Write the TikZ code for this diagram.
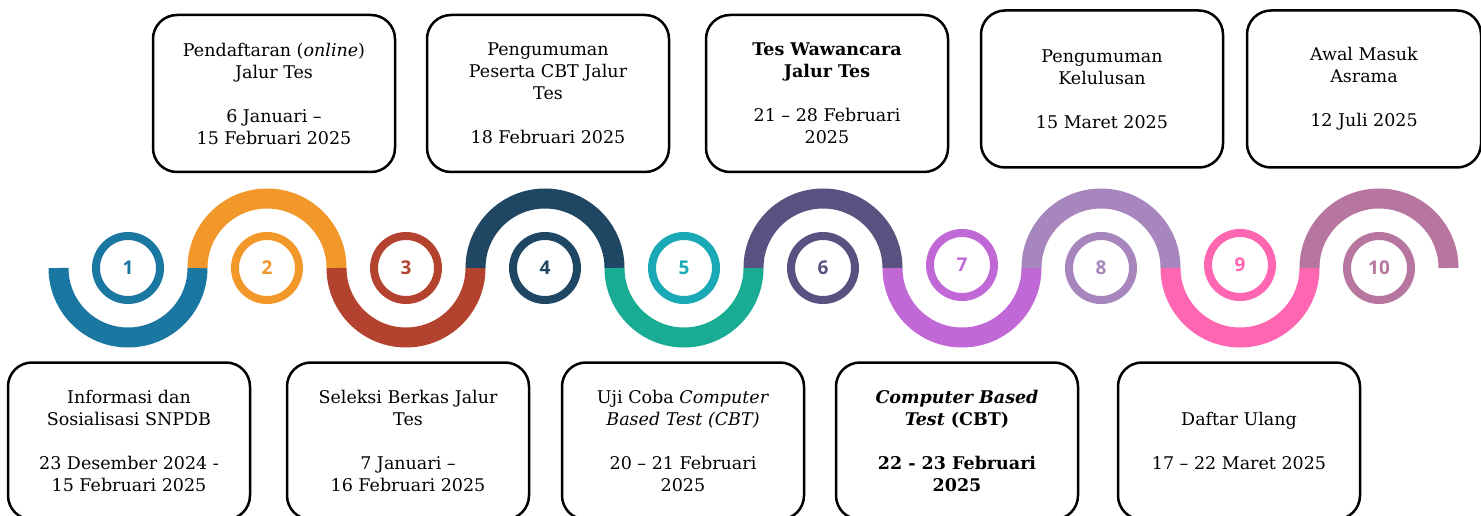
\documentclass[tikz,border=0pt]{standalone}
\usepackage{fontspec}
\setmainfont{DejaVu Serif}
\setsansfont{Open Sans}
\usetikzlibrary{positioning}
\definecolor{cOne}{HTML}{1A77A1}
\definecolor{cTwo}{HTML}{F2972A}
\definecolor{cThree}{HTML}{B3432F}
\definecolor{cFour}{HTML}{1F4662}
\definecolor{cFive}{HTML}{18AD92}
\definecolor{cFiveRing}{HTML}{19AAB6}
\definecolor{cSix}{HTML}{59517F}
\definecolor{cSeven}{HTML}{C068D6}
\definecolor{cEight}{HTML}{A786BD}
\definecolor{cNine}{HTML}{FF66B2}
\definecolor{cTen}{HTML}{B7769F}
\tikzset{
    block/.style={
           rectangle,
           rounded corners=24pt,
           draw=black, line width=2.5pt,
           minimum width=242pt,
           minimum height=157pt,
           inner sep=2pt,
           align=center,
           font=\fontsize{17.5}{22}\selectfont,
           },
    numring/.style={
           circle,
           draw=#1, text=#1,
           line width=8pt,
           minimum size=64pt,
           inner sep=0pt,
           font=\fontsize{19}{24}\selectfont\sffamily\bfseries,
           },
    wave/.style={
           draw=#1,
           line width=20pt,
           },
}

\begin{document}
\begin{tikzpicture}[x=1pt, y=1pt, node distance=30pt]
	\useasboundingbox (0,0) rectangle (1481,515);
	\clip (0,0) rectangle (1481,515);

	% number rings
	\node[numring=cOne]      (n1)  at (128,247)  {1};
	\node[numring=cTwo]      (n2)  at (267,247)  {2};
	\node[numring=cThree]    (n3)  at (406,247)  {3};
	\node[numring=cFour]     (n4)  at (545,247)  {4};
	\node[numring=cFiveRing] (n5)  at (684,247)  {5};
	\node[numring=cSix]      (n6)  at (823,247)  {6};
	\node[numring=cSeven]    (n7)  at (962,250)  {7};
	\node[numring=cEight]    (n8)  at (1101,247) {8};
	\node[numring=cNine]     (n9)  at (1240,250) {9};
	\node[numring=cTen]      (n10) at (1379,247) {10};

	% wave
	\draw[wave=cOne]   (n1.center)  ++(180:69.5) arc[start angle=180, end angle=360, radius=69.5];
	\draw[wave=cTwo]   (n2.center)  ++(180:69.5) arc[start angle=180, end angle=0,   radius=69.5];
	\draw[wave=cThree] (n3.center)  ++(180:69.5) arc[start angle=180, end angle=360, radius=69.5];
	\draw[wave=cFour]  (n4.center)  ++(180:69.5) arc[start angle=180, end angle=0,   radius=69.5];
	\draw[wave=cFive]  (n5.center)  ++(180:69.5) arc[start angle=180, end angle=360, radius=69.5];
	\draw[wave=cSix]   (n6.center)  ++(180:69.5) arc[start angle=180, end angle=0,   radius=69.5];
	\draw[wave=cSeven] (n7.center)  ++(0,-3) ++(180:69.5) arc[start angle=180, end angle=360, radius=69.5];
	\draw[wave=cEight] (n8.center)  ++(180:69.5) arc[start angle=180, end angle=0,   radius=69.5];
	\draw[wave=cNine]  (n9.center)  ++(0,-3) ++(180:69.5) arc[start angle=180, end angle=360, radius=69.5];
	\draw[wave=cTen]   (n10.center) ++(180:69.5) arc[start angle=180, end angle=0,   radius=69.5];

	% top row
	\node[block] (daftar) at (274,421.5) {
		Pendaftaran (\textit{online})\\ Jalur Tes\\[22pt]
		6 Januari –\\ 15 Februari 2025
	};
	\node[block, right=29.5pt of daftar] (umumcbt) {
		Pengumuman\\ Peserta CBT Jalur\\ Tes\\[22pt]
		18 Februari 2025
	};
	\node[block, right=34.5pt of umumcbt] (wawancara) {
		\textbf{Tes Wawancara}\\ \textbf{Jalur Tes}\\[22pt]
		21 – 28 Februari\\ 2025
	};
	\node[block, right=30.5pt of wawancara, yshift=4.5pt] (lulus) {
		Pengumuman\\ Kelulusan\\[22pt]
		15 Maret 2025
	};
	\node[block, right=21.5pt of lulus, minimum width=234pt] (asrama) {
		Awal Masuk\\ Asrama\\[22pt]
		12 Juli 2025
	};

	% bottom row
	\node[block] (info) at (129,74) {
		Informasi dan\\ Sosialisasi SNPDB\\[22pt]
		23 Desember 2024 -\\ 15 Februari 2025
	};
	\node[block, right=34.5pt of info] (berkas) {
		Seleksi Berkas Jalur\\ Tes\\[22pt]
		7 Januari –\\ 16 Februari 2025
	};
	\node[block, right=30.5pt of berkas] (ujicoba) {
		Uji Coba \textit{Computer}\\ \textit{Based Test (CBT)}\\[22pt]
		20 – 21 Februari\\ 2025
	};
	\node[block, right=29.5pt of ujicoba] (cbt) {
		\textbf{\textit{Computer Based}}\\ \textbf{\textit{Test} (CBT)}\\[22pt]
		\textbf{22 - 23 Februari}\\ \textbf{2025}
	};
	\node[block, right=37.5pt of cbt] (ulang) {
		Daftar Ulang\\[22pt]
		17 – 22 Maret 2025
	};

\end{tikzpicture}
\end{document}
